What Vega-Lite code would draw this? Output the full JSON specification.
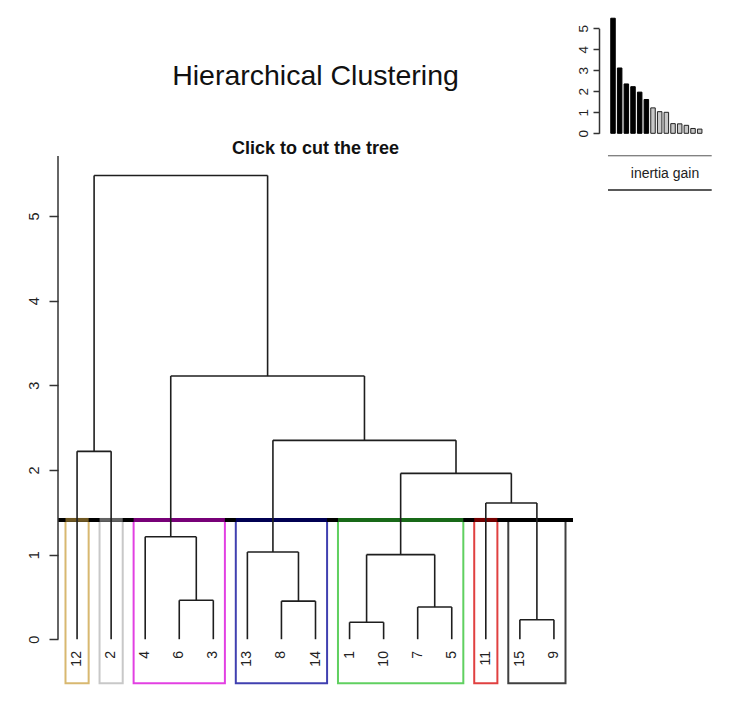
{
  "$schema": "https://vega.github.io/schema/vega-lite/v6.json",
  "autosize": {"type": "none"},
  "padding": {"left": 58, "top": 156, "right": 165, "bottom": 13},
  "width": 515,
  "height": 534,
  "background": "white",
  "config": {"font": "Liberation Sans", "view": {"stroke": null}},
  "title": {
    "text": "Hierarchical Clustering",
    "subtitle": "Click to cut the tree",
    "frame": "group",
    "fontSize": 28.5,
    "fontWeight": "normal",
    "color": "#111111",
    "subtitleFontSize": 18,
    "subtitleFontWeight": "bold",
    "subtitleColor": "#111111",
    "anchor": "middle",
    "offset": -140,
    "subtitlePadding": 49
  },
  "datasets": {
    "segments": [
      {"x": 4, "x2": 5, "y": 0.46, "y2": 0.46},
      {"x": 3, "x2": 4.5, "y": 1.21, "y2": 1.21},
      {"x": 7, "x2": 8, "y": 0.45, "y2": 0.45},
      {"x": 6, "x2": 7.5, "y": 1.03, "y2": 1.03},
      {"x": 9, "x2": 10, "y": 0.2, "y2": 0.2},
      {"x": 11, "x2": 12, "y": 0.38, "y2": 0.38},
      {"x": 9.5, "x2": 11.5, "y": 1.0, "y2": 1.0},
      {"x": 14, "x2": 15, "y": 0.23, "y2": 0.23},
      {"x": 13, "x2": 14.5, "y": 1.61, "y2": 1.61},
      {"x": 10.5, "x2": 13.75, "y": 1.96, "y2": 1.96},
      {"x": 6.75, "x2": 12.125, "y": 2.35, "y2": 2.35},
      {"x": 3.75, "x2": 9.4375, "y": 3.11, "y2": 3.11},
      {"x": 1, "x2": 2, "y": 2.22, "y2": 2.22},
      {"x": 1.5, "x2": 6.59375, "y": 5.48, "y2": 5.48},
      {"x": 1, "x2": 1, "y": 0, "y2": 2.22},
      {"x": 2, "x2": 2, "y": 0, "y2": 2.22},
      {"x": 3, "x2": 3, "y": 0, "y2": 1.21},
      {"x": 4, "x2": 4, "y": 0, "y2": 0.46},
      {"x": 5, "x2": 5, "y": 0, "y2": 0.46},
      {"x": 4.5, "x2": 4.5, "y": 0.46, "y2": 1.21},
      {"x": 6, "x2": 6, "y": 0, "y2": 1.03},
      {"x": 7, "x2": 7, "y": 0, "y2": 0.45},
      {"x": 8, "x2": 8, "y": 0, "y2": 0.45},
      {"x": 7.5, "x2": 7.5, "y": 0.45, "y2": 1.03},
      {"x": 9, "x2": 9, "y": 0, "y2": 0.2},
      {"x": 10, "x2": 10, "y": 0, "y2": 0.2},
      {"x": 11, "x2": 11, "y": 0, "y2": 0.38},
      {"x": 12, "x2": 12, "y": 0, "y2": 0.38},
      {"x": 9.5, "x2": 9.5, "y": 0.2, "y2": 1.0},
      {"x": 11.5, "x2": 11.5, "y": 0.38, "y2": 1.0},
      {"x": 13, "x2": 13, "y": 0, "y2": 1.61},
      {"x": 14, "x2": 14, "y": 0, "y2": 0.23},
      {"x": 15, "x2": 15, "y": 0, "y2": 0.23},
      {"x": 14.5, "x2": 14.5, "y": 0.23, "y2": 1.61},
      {"x": 10.5, "x2": 10.5, "y": 1.0, "y2": 1.96},
      {"x": 13.75, "x2": 13.75, "y": 1.61, "y2": 1.96},
      {"x": 6.75, "x2": 6.75, "y": 1.03, "y2": 2.35},
      {"x": 12.125, "x2": 12.125, "y": 1.96, "y2": 2.35},
      {"x": 3.75, "x2": 3.75, "y": 1.21, "y2": 3.11},
      {"x": 9.4375, "x2": 9.4375, "y": 2.35, "y2": 3.11},
      {"x": 1.5, "x2": 1.5, "y": 2.22, "y2": 5.48},
      {"x": 6.59375, "x2": 6.59375, "y": 3.11, "y2": 5.48}
    ],
    "clusters": [
      {"cluster": "c1", "xmin": 0.66, "xmax": 1.34, "top": 1.41, "bottom": -0.52},
      {"cluster": "c2", "xmin": 1.66, "xmax": 2.34, "top": 1.41, "bottom": -0.52},
      {"cluster": "c3", "xmin": 2.66, "xmax": 5.34, "top": 1.41, "bottom": -0.52},
      {"cluster": "c4", "xmin": 5.66, "xmax": 8.34, "top": 1.41, "bottom": -0.52},
      {"cluster": "c5", "xmin": 8.66, "xmax": 12.34, "top": 1.41, "bottom": -0.52},
      {"cluster": "c6", "xmin": 12.66, "xmax": 13.34, "top": 1.41, "bottom": -0.52},
      {"cluster": "c7", "xmin": 13.66, "xmax": 15.34, "top": 1.41, "bottom": -0.52}
    ],
    "leaves": [
      {"pos": 1, "label": "12"}, {"pos": 2, "label": "2"}, {"pos": 3, "label": "4"},
      {"pos": 4, "label": "6"}, {"pos": 5, "label": "3"}, {"pos": 6, "label": "13"},
      {"pos": 7, "label": "8"}, {"pos": 8, "label": "14"}, {"pos": 9, "label": "1"},
      {"pos": 10, "label": "10"}, {"pos": 11, "label": "7"}, {"pos": 12, "label": "5"},
      {"pos": 13, "label": "11"}, {"pos": 14, "label": "15"}, {"pos": 15, "label": "9"}
    ],
    "gains": [
      {"rank": 1, "gain": 5.48, "kept": "yes"},
      {"rank": 2, "gain": 3.11, "kept": "yes"},
      {"rank": 3, "gain": 2.35, "kept": "yes"},
      {"rank": 4, "gain": 2.22, "kept": "yes"},
      {"rank": 5, "gain": 1.96, "kept": "yes"},
      {"rank": 6, "gain": 1.61, "kept": "yes"},
      {"rank": 7, "gain": 1.21, "kept": "no"},
      {"rank": 8, "gain": 1.03, "kept": "no"},
      {"rank": 9, "gain": 1.0, "kept": "no"},
      {"rank": 10, "gain": 0.46, "kept": "no"},
      {"rank": 11, "gain": 0.45, "kept": "no"},
      {"rank": 12, "gain": 0.38, "kept": "no"},
      {"rank": 13, "gain": 0.23, "kept": "no"},
      {"rank": 14, "gain": 0.2, "kept": "no"}
    ],
    "one": [{}]
  },
  "layer": [
    {
      "layer": [
        {
          "data": {"name": "clusters"},
          "mark": {"type": "rect", "fillOpacity": 0, "strokeWidth": 2, "strokeOpacity": 0.75},
          "encoding": {
            "x": {"field": "xmin", "type": "quantitative", "scale": {"domain": [0.44, 15.56], "nice": false, "zero": false, "padding": 0}, "axis": null},
            "x2": {"field": "xmax"},
            "y": {"field": "top", "type": "quantitative", "scale": {"domain": [-0.6, 5.71], "nice": false, "zero": false, "padding": 0},
              "axis": {"values": [0, 1, 2, 3, 4, 5], "format": "d", "domain": false, "grid": false, "title": null, "ticks": true, "tickSize": 9, "tickWidth": 1.5, "tickColor": "#333333", "labelFontSize": 14.5, "labelColor": "#222222", "labelAngle": 270, "labelAlign": "center", "labelBaseline": "alphabetic", "labelPadding": 11}},
            "y2": {"field": "bottom"},
            "stroke": {"field": "cluster", "type": "nominal", "legend": null,
              "scale": {"domain": ["c1", "c2", "c3", "c4", "c5", "c6", "c7"], "range": ["#CBA040", "#B5B5B5", "#D800D8", "#000096", "#2BC02B", "#D50000", "#000000"]}}
          }
        },
        {
          "data": {"name": "one"},
          "mark": {"type": "rule", "color": "#000000", "strokeWidth": 4},
          "encoding": {
            "x": {"datum": 0.44, "type": "quantitative"},
            "x2": {"datum": 15.56},
            "y": {"datum": 1.41, "type": "quantitative"}
          }
        },
        {
          "data": {"name": "clusters"},
          "mark": {"type": "rule", "strokeWidth": 4, "opacity": 0.55},
          "encoding": {
            "x": {"field": "xmin", "type": "quantitative"},
            "x2": {"field": "xmax"},
            "y": {"field": "top", "type": "quantitative"},
            "color": {"field": "cluster", "type": "nominal", "legend": null,
              "scale": {"domain": ["c1", "c2", "c3", "c4", "c5", "c6", "c7"], "range": ["#CBA040", "#B5B5B5", "#D800D8", "#000096", "#2BC02B", "#D50000", "#000000"]}}
          }
        },
        {
          "data": {"name": "one"},
          "mark": {"type": "rule", "color": "#333333", "strokeWidth": 1.5},
          "encoding": {
            "x": {"datum": 0.44, "type": "quantitative"},
            "y": {"datum": 0, "type": "quantitative"},
            "y2": {"datum": 5.71}
          }
        },
        {
          "data": {"name": "segments"},
          "mark": {"type": "rule", "color": "#1e1e1e", "strokeWidth": 1.6},
          "encoding": {
            "x": {"field": "x", "type": "quantitative"},
            "x2": {"field": "x2"},
            "y": {"field": "y", "type": "quantitative"},
            "y2": {"field": "y2"}
          }
        },
        {
          "data": {"name": "leaves"},
          "mark": {"type": "text", "angle": 270, "align": "right", "baseline": "middle", "fontSize": 14, "color": "#222222"},
          "encoding": {
            "x": {"field": "pos", "type": "quantitative"},
            "y": {"datum": -0.14, "type": "quantitative"},
            "text": {"field": "label"}
          }
        }
      ]
    },
    {
      "layer": [
        {
          "data": {"name": "gains"},
          "mark": {"type": "bar", "orient": "vertical", "width": 4.5, "strokeWidth": 1},
          "encoding": {
            "x": {"field": "rank", "type": "quantitative", "scale": {"domain": [1, 14], "range": [555, 641.7], "nice": false, "zero": false, "padding": 0}, "axis": null},
            "y": {"field": "gain", "type": "quantitative", "stack": null, "scale": {"domain": [0, 5], "range": [-22.7, -127.7], "nice": false, "padding": 0},
              "axis": {"orient": "left", "offset": -541, "values": [0, 1, 2, 3, 4, 5], "format": "d", "grid": false, "title": null, "domainColor": "#333333", "domainWidth": 1.5, "tickSize": 6, "tickWidth": 1.5, "tickColor": "#333333", "labelFontSize": 13.5, "labelColor": "#222222", "labelAngle": 270, "labelAlign": "center", "labelBaseline": "alphabetic", "labelPadding": 6}},
            "fill": {"field": "kept", "type": "nominal", "legend": null, "scale": {"domain": ["yes", "no"], "range": ["#000000", "#C8C8C8"]}},
            "stroke": {"field": "kept", "type": "nominal", "legend": null, "scale": {"domain": ["yes", "no"], "range": ["#000000", "#222222"]}}
          }
        },
        {
          "data": {"name": "one"},
          "mark": {"type": "rule", "color": "#555555", "strokeWidth": 1},
          "encoding": {
            "x": {"datum": 0.25, "type": "quantitative"},
            "x2": {"datum": 15.8},
            "y": {"datum": -1.07, "type": "quantitative"}
          }
        },
        {
          "data": {"name": "one"},
          "mark": {"type": "rule", "color": "#222222", "strokeWidth": 1.5},
          "encoding": {
            "x": {"datum": 0.25, "type": "quantitative"},
            "x2": {"datum": 15.8},
            "y": {"datum": -2.7, "type": "quantitative"}
          }
        },
        {
          "data": {"name": "one"},
          "mark": {"type": "text", "fontSize": 14, "align": "center", "baseline": "middle", "color": "#222222", "text": "inertia gain"},
          "encoding": {
            "x": {"datum": 8.8, "type": "quantitative"},
            "y": {"datum": -1.94, "type": "quantitative"}
          }
        }
      ]
    }
  ],
  "resolve": {"scale": {"x": "independent", "y": "independent", "color": "independent", "stroke": "independent", "fill": "independent"}, "axis": {"x": "independent", "y": "independent"}}
}
